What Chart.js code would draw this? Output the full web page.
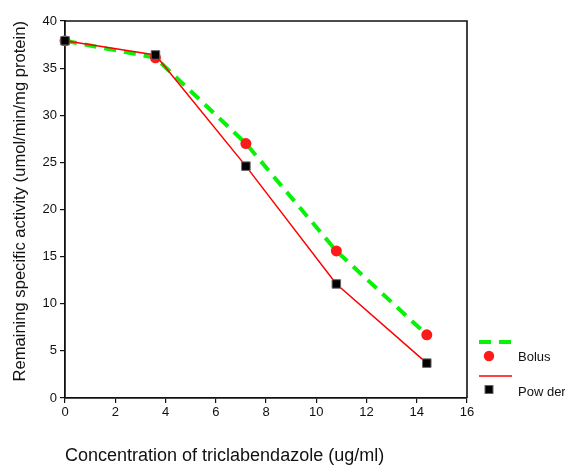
<!DOCTYPE html>
<html>
<head>
<meta charset="utf-8">
<script src="https://cdn.jsdelivr.net/npm/chart.js@4/dist/chart.umd.min.js"></script>
<style>
html,body{margin:0;padding:0;background:#fff;}
#wrap{width:565px;height:465px;position:relative;}
</style>
</head>
<body>
<div id="wrap"><canvas id="c" width="565" height="465"></canvas></div>
<script>
const concentrations = [0, 3.6, 7.2, 10.8, 14.4];
const bolusValues = [37.9, 36.1, 27.0, 15.6, 6.7];
const powderValues = [37.9, 36.4, 24.6, 12.1, 3.7];
const xTicks = [0, 2, 4, 6, 8, 10, 12, 14, 16];
const yTicks = [0, 5, 10, 15, 20, 25, 30, 35, 40];
const seriesLabels = ['Bolus', 'Pow der'];
const xTitle = 'Concentration of triclabendazole (ug/ml)';
const yTitle = 'Remaining specific activity (umol/min/mg protein)';

const GREEN = '#08f208';
const RED = '#ff1a1a';
const FONT = 'Liberation Sans, Arial, sans-serif';

const pts = (vals) => concentrations.map((x, i) => ({x: x, y: vals[i]}));

const boxPlugin = {
  id: 'box',
  beforeDatasetsDraw(chart) {
    const {ctx, chartArea: a} = chart;
    ctx.save();
    ctx.strokeStyle = '#111';
    ctx.lineWidth = 1.6;
    ctx.beginPath();
    ctx.moveTo(a.left, a.top);
    ctx.lineTo(a.right, a.top);
    ctx.lineTo(a.right, a.bottom);
    ctx.stroke();
    ctx.restore();
  }
};

const legendPlugin = {
  id: 'customLegend',
  afterDraw(chart) {
    const ctx = chart.ctx;
    const ds = chart.data.datasets;
    ctx.save();
    ctx.strokeStyle = ds[0].borderColor;
    ctx.lineWidth = ds[0].borderWidth;
    ctx.setLineDash(ds[0].borderDash);
    ctx.beginPath(); ctx.moveTo(479, 342); ctx.lineTo(512, 342); ctx.stroke();
    ctx.setLineDash([]);
    ctx.fillStyle = ds[1].pointBackgroundColor;
    ctx.beginPath(); ctx.arc(489, 356, 5.2, 0, Math.PI * 2); ctx.fill();
    ctx.strokeStyle = ds[2].borderColor;
    ctx.lineWidth = ds[2].borderWidth;
    ctx.beginPath(); ctx.moveTo(479, 376); ctx.lineTo(512, 376); ctx.stroke();
    ctx.fillStyle = ds[3].pointBackgroundColor;
    ctx.strokeStyle = '#666';
    ctx.lineWidth = 1;
    ctx.fillRect(485, 385.5, 8, 8);
    ctx.strokeRect(485, 385.5, 8, 8);
    ctx.fillStyle = '#111';
    ctx.font = '13px ' + FONT;
    ctx.textBaseline = 'middle';
    ctx.textAlign = 'left';
    ctx.fillText(ds[1].label, 518, 357);
    ctx.fillText(ds[3].label, 518, 392);
    ctx.restore();
  }
};

new Chart(document.getElementById('c'), {
  type: 'scatter',
  data: {
    datasets: [
      {
        label: '',
        type: 'line',
        data: pts(bolusValues),
        borderColor: GREEN,
        borderWidth: 4,
        borderDash: [12, 8],
        pointRadius: 0,
        tension: 0,
        fill: false,
        clip: false,
        order: 4
      },
      {
        label: seriesLabels[0],
        data: pts(bolusValues),
        showLine: false,
        pointStyle: 'circle',
        pointRadius: 5.5,
        pointBackgroundColor: RED,
        pointBorderColor: RED,
        pointBorderWidth: 0,
        clip: false,
        order: 3
      },
      {
        label: '',
        type: 'line',
        data: pts(powderValues),
        borderColor: '#ff0000',
        borderWidth: 1.5,
        pointRadius: 0,
        tension: 0,
        fill: false,
        clip: false,
        order: 2
      },
      {
        label: seriesLabels[1],
        data: pts(powderValues),
        showLine: false,
        pointStyle: 'rect',
        pointRadius: 6,
        pointBackgroundColor: '#000',
        pointBorderColor: '#666',
        pointBorderWidth: 1,
        clip: false,
        order: 1
      }
    ]
  },
  options: {
    responsive: false,
    animation: false,
    devicePixelRatio: 1,
    layout: { padding: { top: 21, right: 98, left: 0, bottom: 0 } },
    plugins: {
      legend: { display: false },
      tooltip: { enabled: false }
    },
    scales: {
      x: {
        type: 'linear',
        min: 0, max: 16,
        afterBuildTicks: (s) => { s.ticks = xTicks.map(v => ({value: v})); },
        afterFit: (s) => { s.height = 67; },
        ticks: { color: '#111', font: { family: FONT, size: 13 }, padding: 2, maxRotation: 0, autoSkip: false },
        grid: { display: true, drawOnChartArea: false, drawTicks: true, tickLength: 5, color: '#111', lineWidth: 1.2 },
        border: { display: true, color: '#111', width: 1.8 },
        title: { display: true, text: xTitle, align: 'start', color: '#111', font: { family: FONT, size: 18, lineHeight: 1 }, padding: { top: 0, bottom: 0 } }
      },
      y: {
        type: 'linear',
        min: 0, max: 40,
        afterBuildTicks: (s) => { s.ticks = yTicks.map(v => ({value: v})); },
        afterFit: (s) => { s.width = 65; },
        ticks: { color: '#111', font: { family: FONT, size: 13 }, padding: 3, autoSkip: false },
        grid: { display: true, drawOnChartArea: false, drawTicks: true, tickLength: 5, color: '#111', lineWidth: 1.2 },
        border: { display: true, color: '#111', width: 1.8 },
        title: { display: true, text: yTitle, align: 'end', color: '#111', font: { family: FONT, size: 16.6, lineHeight: 1.2 }, padding: { top: 10, bottom: 0 } }
      }
    }
  },
  plugins: [boxPlugin, legendPlugin]
});
</script>
</body>
</html>
